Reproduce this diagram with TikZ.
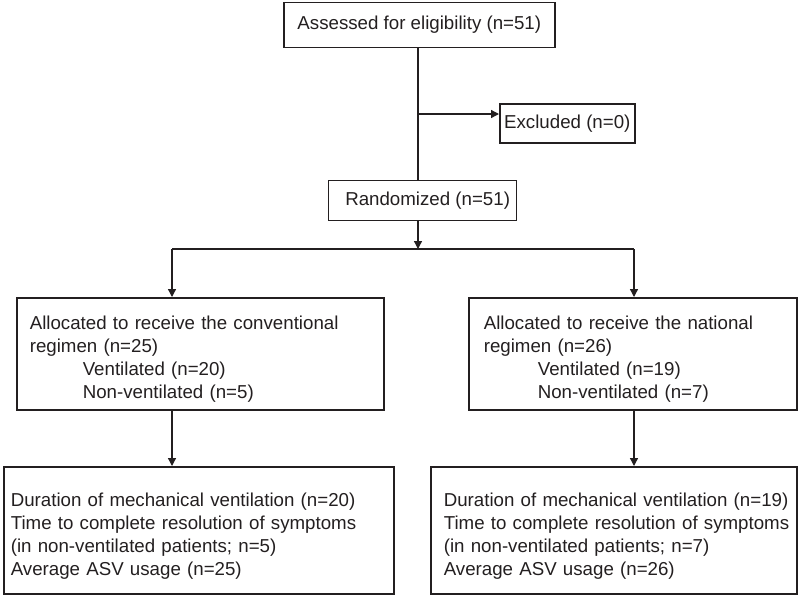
\documentclass[tikz,border=0pt]{standalone}
\usepackage{fontspec}
\setmainfont{Liberation Sans}
\usetikzlibrary{arrows.meta}
\definecolor{ink}{HTML}{231F20}
\newcommand\padl[1]{\hspace*{#1}}
\begin{document}
\begin{tikzpicture}[x=1pt,y=-1pt,
  box/.style={draw=ink,line width=1.6pt,rectangle,anchor=north west,inner ysep=0pt,text=ink,
    font=\fontsize{18.7}{23}\selectfont},
  textbox/.style={box,inner xsep=0pt,align=left},
  conn/.style={draw=ink,line width=1.3pt},
  arr/.style={conn,-{Triangle[length=8pt,width=8pt]}}]
\useasboundingbox (0,0) rectangle (800,595);
% boxes
\node[box,minimum width=271pt,minimum height=45pt,inner xsep=0pt] (assess) at (283,1.5) {Assessed for eligibility (n=51)};
\node[box,minimum width=135pt,minimum height=39pt,inner xsep=0pt] (excl) at (499,103) {Excluded (n=0)};
\node[box,line width=1.3pt,minimum width=188pt,minimum height=40pt,inner xsep=0pt] (rand) at (328,180) {\hspace*{10pt}Randomized (n=51)};
\node[textbox,minimum height=112pt,text width=367pt] (lm) at (16,297)
  {\rule{0pt}{25pt}\padl{13pt}Allocated to receive the conventional\\\padl{13pt}regimen (n=25)\\\padl{66pt}Ventilated (n=20)\\\padl{66pt}Non-ventilated (n=5)};
\node[textbox,minimum height=112pt,text width=328pt] (rm) at (468,297)
  {\rule{0pt}{25pt}\padl{15pt}Allocated to receive the national\\\padl{15pt}regimen (n=26)\\\padl{69pt}Ventilated (n=19)\\\padl{69pt}Non-ventilated (n=7)};
\node[textbox,minimum height=127pt,text width=390pt] (bl) at (3,466)
  {\rule{0pt}{26pt}\padl{7pt}Duration of mechanical ventilation (n=20)\\\padl{7pt}Time to complete resolution of symptoms\\\padl{7pt}(in non-ventilated patients; n=5)\\\padl{7pt}Average ASV usage (n=25)};
\node[textbox,minimum height=127pt,text width=366pt] (br) at (430,466)
  {\rule{0pt}{26pt}\padl{13pt}Duration of mechanical ventilation (n=19)\\\padl{13pt}Time to complete resolution of symptoms\\\padl{13pt}(in non-ventilated patients; n=7)\\\padl{13pt}Average ASV usage (n=26)};
% junction points
\coordinate (bx) at (418,114);
\coordinate (split) at (418,249);
\coordinate (jl) at (172,249);
\coordinate (jr) at (634,249);
% connectors
\draw[conn] (assess.south -| bx) -- (rand.north -| bx);
\draw[arr] (bx) -- (excl.west |- bx);
\draw[arr] (rand.south -| split) -- (split);
\draw[conn] (jl) -- (jr);
\draw[arr] (jl) -- (jl |- lm.north);
\draw[arr] (jr) -- (jr |- rm.north);
\draw[arr] (lm.south -| jl) -- (bl.north -| jl);
\draw[arr] (rm.south -| jr) -- (br.north -| jr);
\end{tikzpicture}
\end{document}
